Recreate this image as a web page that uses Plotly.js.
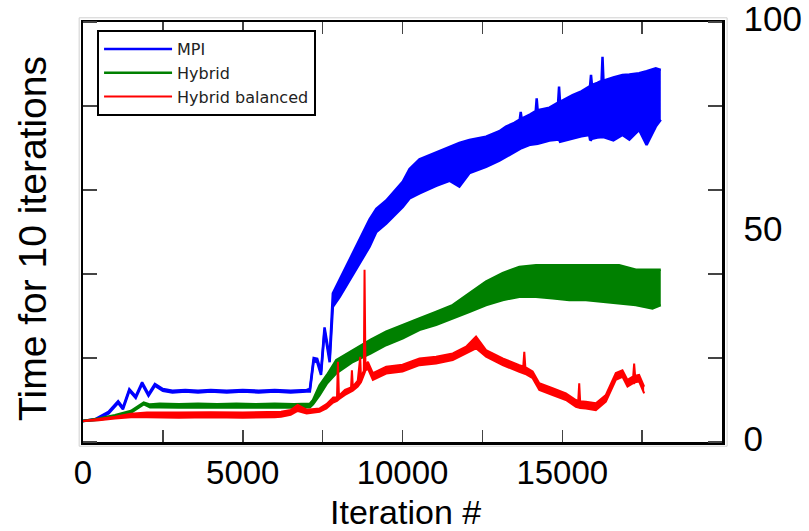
<!DOCTYPE html>
<html><head><meta charset="utf-8">
<script src="https://cdn.plot.ly/plotly-3.0.1.min.js"></script>
<style>html,body{margin:0;padding:0;background:#fff;} #chart{width:809px;height:531px;}</style>
</head><body><div id="chart"></div>
<script>
// ---- data (x: iteration, y: time for 10 iterations) ----
const seriesNames = ['MPI', 'Hybrid', 'Hybrid balanced'];
const seriesColors = ['#0000ff', '#008000', '#ff0000'];

// MPI: lower and upper edge of the noisy band
const mpiIter = [0, 400, 800, 1100, 1250, 1450, 1650, 1850, 2050, 2250, 2500, 2800, 3200, 3600, 4000, 4500, 5000, 5500, 6000, 6500, 7000, 7100, 7220, 7330, 7450, 7560, 7720, 7820, 8030, 8448, 8969, 9180, 9490, 10010, 10220, 10531, 11052, 11470, 11780, 12094, 12615, 13031, 13240, 13500, 13670, 13700, 13730, 14000, 14170, 14200, 14230, 14600, 14870, 14900, 14930, 15323, 15600, 15844, 15870, 15900, 15930, 16100, 16230, 16260, 16290, 16600, 16885, 17100, 17406, 17640, 17927, 18084];
const mpiLow  = [5.0, 5.3, 6.8, 9.3, 7.8, 12.2, 10.5, 13.8, 11.0, 13.4, 12.2, 11.8, 12.0, 11.8, 12.0, 11.8, 12.0, 11.8, 12.0, 11.8, 12.0, 12.0, 19.3, 19.0, 16.0, 26.5, 19.0, 32.2, 34.5, 39.8, 46.5, 50.0, 52.0, 56.0, 58.0, 59.2, 61.0, 62.2, 60.8, 64.0, 65.5, 67.0, 67.9, 69.0, 69.6, 69.8, 70.0, 70.8, 71.0, 71.0, 71.0, 71.8, 72.0, 72.0, 71.5, 72.3, 72.8, 73.1, 72.0, 71.9, 72.2, 72.5, 72.5, 72.5, 72.6, 71.8, 73.1, 72.0, 74.3, 70.7, 75.1, 76.7];
const mpiHigh = [5.0, 5.5, 7.2, 9.7, 8.2, 12.6, 10.9, 14.2, 11.4, 13.8, 12.6, 12.2, 12.4, 12.2, 12.4, 12.2, 12.4, 12.2, 12.4, 12.2, 12.4, 12.6, 20.0, 19.8, 16.8, 27.3, 20.0, 35.4, 38.6, 44.9, 53.0, 55.5, 57.5, 62.0, 65.0, 67.3, 68.9, 70.3, 71.2, 71.9, 72.7, 74.0, 75.1, 76.0, 76.8, 78.6, 77.0, 78.0, 78.8, 81.8, 79.0, 79.6, 80.8, 84.6, 81.0, 82.6, 83.5, 84.6, 84.8, 87.4, 85.0, 85.5, 86.0, 91.7, 86.0, 86.8, 87.4, 87.5, 87.8, 88.3, 89.0, 88.6];

// Hybrid: lower and upper edge of the band
const hybridIter = [0, 500, 1000, 1500, 1900, 2100, 2400, 3000, 3600, 4200, 4800, 5400, 6000, 6600, 7100, 7200, 7406, 7640, 7927, 8448, 9000, 9490, 10000, 10531, 11052, 11573, 12094, 12615, 13135, 13656, 14177, 14698, 15219, 15740, 16260, 16781, 17302, 17823, 18083];
const hybridLow  = [5.0, 5.3, 6.0, 7.0, 9.0, 8.3, 8.3, 8.2, 8.3, 8.2, 8.3, 8.2, 8.3, 8.2, 8.3, 9.0, 11.2, 14.0, 16.4, 19.1, 21.1, 23.1, 24.7, 26.7, 27.9, 29.4, 31.0, 32.6, 33.8, 34.6, 34.6, 34.2, 33.8, 33.8, 33.4, 33.0, 32.6, 31.8, 32.6];
const hybridHigh = [5.0, 5.6, 6.4, 7.4, 9.4, 8.9, 9.1, 9.0, 9.1, 9.0, 9.1, 9.0, 9.1, 9.0, 9.1, 10.0, 13.5, 16.0, 19.5, 21.9, 24.3, 26.3, 27.9, 29.4, 31.0, 32.6, 35.4, 38.2, 40.2, 41.7, 42.1, 42.1, 42.1, 42.1, 42.1, 42.1, 41.0, 41.0, 41.0];

// Hybrid balanced: lower and upper edge of the line (spikes on the upper edge)
const balancedIter = [0, 500, 1000, 1500, 2000, 3000, 4000, 5000, 6000, 6200, 6500, 6720, 7000, 7200, 7406, 7620, 7830, 7950, 7979, 8010, 8200, 8390, 8417, 8445, 8600, 8677, 8700, 8790, 8812, 8840, 8917, 9073, 9490, 10000, 10531, 11052, 11573, 11990, 12302, 12615, 13135, 13656, 13780, 13812, 13845, 14073, 14281, 14698, 15115, 15427, 15500, 15531, 15560, 15740, 16052, 16365, 16677, 16885, 17042, 17220, 17250, 17280, 17406, 17563];
const balancedLow  = [5.0, 5.2, 5.6, 5.9, 5.9, 5.8, 5.9, 5.8, 5.9, 6.0, 6.5, 7.4, 6.8, 7.0, 7.2, 8.0, 9.4, 9.8, 10.0, 10.2, 11.2, 12.0, 12.1, 12.2, 13.2, 14.0, 14.2, 16.0, 16.5, 17.0, 17.5, 14.8, 16.3, 16.8, 18.3, 18.7, 19.5, 21.1, 22.3, 20.3, 18.3, 16.7, 16.4, 16.3, 16.2, 15.2, 12.4, 11.2, 10.0, 8.4, 8.2, 8.2, 8.1, 8.0, 7.6, 9.6, 14.8, 15.5, 13.2, 14.0, 14.0, 14.2, 14.4, 11.6];
const balancedHigh = [5.0, 5.5, 6.0, 6.7, 7.0, 7.0, 7.1, 7.0, 7.1, 7.2, 7.6, 8.8, 7.7, 7.9, 8.0, 9.0, 10.6, 10.6, 19.1, 11.0, 12.4, 13.0, 17.1, 13.2, 14.6, 20.3, 15.4, 17.0, 41.0, 18.0, 19.1, 16.4, 17.9, 18.4, 19.9, 20.3, 21.1, 22.7, 25.1, 21.9, 19.9, 18.3, 18.0, 21.5, 17.8, 16.8, 14.0, 12.8, 11.6, 10.0, 9.8, 14.0, 9.7, 9.6, 9.2, 11.2, 16.4, 17.1, 14.8, 15.6, 18.7, 15.8, 16.0, 13.2];

const xTickVals = [0, 5000, 10000, 15000];
const xTickText = ['0', '5000', '10000', '15000'];
const yTickVals = [0, 50, 100];
const yTickText = ['0', '50', '100'];
const xTitle = 'Iteration #';
const yTitle = 'Time for 10 iterations';

// ---- traces: each series is drawn as its lower edge plus its upper edge filled down to it ----
function band(x, lo, hi, color, name, w) {
  return [
    {x: x, y: lo, type: 'scatter', mode: 'lines', name: name,
     line: {color: color, width: w}},
    {x: x, y: hi, type: 'scatter', mode: 'lines', name: name, showlegend: false,
     fill: 'tonexty', fillcolor: color, line: {color: color, width: w}}
  ];
}
const data = [].concat(
  band(mpiIter, mpiLow, mpiHigh, seriesColors[0], seriesNames[0], 2.5),
  band(hybridIter, hybridLow, hybridHigh, seriesColors[1], seriesNames[1], 2.5),
  band(balancedIter, balancedLow, balancedHigh, seriesColors[2], seriesNames[2], 2)
);

const tickStyle = {ticks: 'inside', ticklen: 12, tickwidth: 1.5, tickcolor: '#444'};
const titleFont = {family: 'Liberation Sans, Arial, sans-serif', color: '#000'};

const layout = {
  width: 809, height: 531,
  margin: {l: 83, r: 87, t: 22, b: 89, pad: 0},
  paper_bgcolor: '#fff', plot_bgcolor: '#fff',
  font: {family: 'Liberation Sans, Arial, sans-serif', color: '#000'},
  showlegend: true,
  legend: {x: 0.022, y: 0.981, xanchor: 'left', yanchor: 'top',
           bordercolor: '#000', borderwidth: 2, bgcolor: '#fff',
           traceorder: 'normal', itemwidth: 68,
           font: {family: 'DejaVu Sans, sans-serif', size: 16, color: '#222'}},
  xaxis: {
    range: [0, 20000], tickmode: 'array', tickvals: xTickVals, ticktext: xTickText,
    ticks: 'inside', ticklen: 12, tickwidth: 1.5, tickcolor: '#444',
    minor: Object.assign({tickmode: 'linear', tick0: 0, dtick: 2500}, tickStyle),
    showline: true, linecolor: '#000', linewidth: 2.5, mirror: 'ticks',
    showgrid: false, zeroline: false, automargin: false,
    tickfont: {size: 33}
  },
  yaxis: {
    range: [0, 100], side: 'right', tickmode: 'array', tickvals: yTickVals, ticktext: yTickText,
    ticks: '',
    minor: Object.assign({tickmode: 'linear', tick0: 0, dtick: 20}, tickStyle, {ticklen: 14}),
    showline: true, linecolor: '#000', linewidth: 2.5, mirror: 'ticks',
    showgrid: false, zeroline: false, automargin: false,
    tickfont: {size: 35}, ticklabelstandoff: 12, ticklabelshift: -3,
    ticklabeloverflow: 'allow'
  },
  annotations: [
    {text: yTitle, textangle: -90, xref: 'paper', yref: 'paper',
     x: -0.078, y: 0.484, xanchor: 'center', yanchor: 'middle', showarrow: false,
     font: Object.assign({size: 39}, titleFont)},
    {text: xTitle, xref: 'paper', yref: 'paper',
     x: 0.505, y: -0.1667, xanchor: 'center', yanchor: 'middle', showarrow: false,
     font: Object.assign({size: 34}, titleFont)}
  ],
  shapes: [{
    type: 'rect', xref: 'paper', yref: 'paper', layer: 'below',
    x0: -0.006, x1: 1.008, y0: -0.01, y1: 1.01,
    line: {color: '#d0d0d0', width: 1}
  }]
};

Plotly.newPlot('chart', data, layout, {displayModeBar: false, staticPlot: true});
</script>
</body></html>
